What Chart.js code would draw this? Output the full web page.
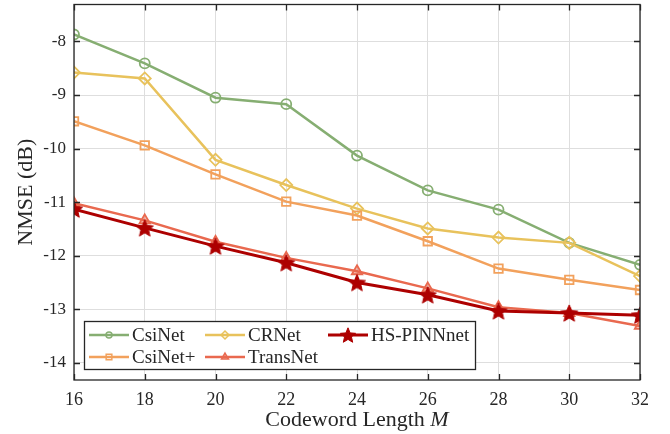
<!DOCTYPE html>
<html>
<head>
<meta charset="utf-8">
<script src="https://cdn.jsdelivr.net/npm/chart.js@4.4.0/dist/chart.umd.min.js"></script>
<style>
  html, body { margin: 0; padding: 0; background: #fff; }
</style>
</head>
<body>
<canvas id="nmseChart" width="670" height="434"></canvas>
<script>
// codeword lengths and NMSE (dB)
var codeword = [16, 18, 20, 22, 24, 26, 28, 30, 32];
var csiNet     = [-7.87, -8.41, -9.05, -9.17, -10.13, -10.78, -11.14, -11.76, -12.17];
var crNet      = [-8.58, -8.69, -10.21, -10.68, -11.12, -11.49, -11.66, -11.76, -12.38];
var csiNetPlus = [-9.49, -9.94, -10.48, -10.99, -11.25, -11.73, -12.24, -12.45, -12.64];
var transNet   = [-11.02, -11.34, -11.74, -12.04, -12.29, -12.61, -12.96, -13.07, -13.31];
var hsPinn     = [-11.13, -11.48, -11.82, -12.13, -12.5, -12.73, -13.03, -13.07, -13.11];
var seriesNames = ["CsiNet", "CRNet", "HS-PINNnet", "CsiNet+", "TransNet"];
var yTicks = [-14, -13, -12, -11, -10, -9, -8];

var FONT = "'Liberation Serif', 'DejaVu Serif', serif";

function pts(ys) {
  return codeword.map(function (x, i) { return { x: x, y: ys[i] }; });
}

// filled five point star for HS-PINNnet markers
function makeStar(r, color) {
  var c = document.createElement("canvas");
  c.width = c.height = r * 2 + 2;
  var g = c.getContext("2d");
  g.beginPath();
  for (var i = 0; i < 10; i++) {
    var rad = i % 2 === 0 ? r : r * 0.45;
    var a = -Math.PI / 2 + i * Math.PI / 5;
    var px = r + 1 + rad * Math.cos(a), py = r + 1 + rad * Math.sin(a) + r * 0.1;
    if (i === 0) g.moveTo(px, py); else g.lineTo(px, py);
  }
  g.closePath();
  g.fillStyle = color;
  g.fill();
  g.strokeStyle = color;
  g.lineWidth = 1;
  g.stroke();
  return c;
}

var cGreen = "#86ae72", cYellow = "#e8c25c", cOrange = "#f2a15c", cRed = "#e9694f", cDark = "#ad0000";
var starImg = makeStar(9, cDark);
var starSmall = makeStar(8, cDark);

var data = {
  datasets: [
    { label: seriesNames[0], data: pts(csiNet), borderColor: cGreen, backgroundColor: "transparent",
      pointStyle: "circle", pointRadius: 5, order: 5 },
    { label: seriesNames[1], data: pts(crNet), borderColor: cYellow, backgroundColor: "transparent",
      pointStyle: "rectRot", pointRadius: 6, order: 4 },
    { label: seriesNames[3], data: pts(csiNetPlus), borderColor: cOrange, backgroundColor: "transparent",
      pointStyle: "rect", pointRadius: 6, order: 3 },
    { label: seriesNames[4], data: pts(transNet), borderColor: cRed, backgroundColor: "rgba(233,105,79,0.45)",
      pointStyle: "triangle", pointRadius: 6, order: 2 },
    { label: seriesNames[2], data: pts(hsPinn), borderColor: cDark, backgroundColor: cDark,
      pointStyle: starImg, pointRadius: 9, borderWidth: 3, order: 1 }
  ]
};
data.datasets.forEach(function (d) {
  d.borderWidth = d.borderWidth || 2.5;
  d.pointBorderWidth = 1.8;
  d.pointHoverRadius = d.pointRadius;
  d.tension = 0;
});

// MATLAB-like box with inward ticks, mixed-font x title and legend inside plot
var boxPlugin = {
  id: "boxPlugin",
  afterDraw: function (chart) {
    var ctx = chart.ctx, a = chart.chartArea;
    var xs = chart.scales.x, ys = chart.scales.y;
    ctx.save();
    ctx.strokeStyle = "#262626";
    ctx.lineWidth = 1.3;
    ctx.strokeRect(a.left, a.top, a.right - a.left, a.bottom - a.top);
    var tl = 6;
    ctx.beginPath();
    xs.ticks.forEach(function (t) {
      var px = Math.round(xs.getPixelForValue(t.value)) + 0.5;
      ctx.moveTo(px, a.bottom); ctx.lineTo(px, a.bottom - tl);
      ctx.moveTo(px, a.top); ctx.lineTo(px, a.top + tl);
    });
    ys.ticks.forEach(function (t) {
      var py = Math.round(ys.getPixelForValue(t.value)) + 0.5;
      ctx.moveTo(a.left, py); ctx.lineTo(a.left + tl, py);
      ctx.moveTo(a.right, py); ctx.lineTo(a.right - tl, py);
    });
    ctx.stroke();

    // x title
    ctx.fillStyle = "#262626";
    ctx.textBaseline = "middle";
    var t1 = "Codeword Length ", t2 = "M";
    ctx.font = "22px " + FONT;
    var w1 = ctx.measureText(t1).width;
    ctx.font = "italic 22px " + FONT;
    var w2 = ctx.measureText(t2).width;
    var cx = (a.left + a.right) / 2, sx = cx - (w1 + w2) / 2, ty = 420;
    ctx.textAlign = "left";
    ctx.font = "22px " + FONT;
    ctx.fillText(t1, sx, ty);
    ctx.font = "italic 22px " + FONT;
    ctx.fillText(t2, sx + w1, ty);

    // legend
    var lx = a.left + 10, ly = a.bottom - 59, lw = 391, lh = 48;
    ctx.fillStyle = "#fff";
    ctx.fillRect(lx, ly, lw, lh);
    ctx.strokeStyle = "#262626";
    ctx.lineWidth = 1.3;
    ctx.strokeRect(lx + 0.5, ly + 0.5, lw, lh);
    var cols = [lx + 5, lx + 121, lx + 244];
    var rows = [ly + 14, ly + 36];
    var order = [0, 1, 4, 2, 3];
    ctx.font = "19px " + FONT;
    order.forEach(function (di, k) {
      var d = chart.data.datasets[di];
      var x0 = cols[k % 3], y0 = rows[Math.floor(k / 3)];
      ctx.strokeStyle = d.borderColor;
      ctx.lineWidth = d.borderWidth;
      ctx.beginPath();
      ctx.moveTo(x0, y0); ctx.lineTo(x0 + 40, y0);
      ctx.stroke();
      var mx = x0 + 20;
      if (d.pointStyle === starImg) {
        ctx.drawImage(starSmall, mx - starSmall.width / 2, y0 - starSmall.height / 2);
      } else {
        ctx.fillStyle = d.backgroundColor;
        ctx.strokeStyle = d.borderColor;
        ctx.lineWidth = 1.5;
        Chart.helpers.drawPoint(ctx, {
          pointStyle: d.pointStyle, radius: d.pointRadius - 2, rotation: 0, borderWidth: 1.5
        }, mx, y0);
      }
      ctx.fillStyle = "#262626";
      ctx.textAlign = "left";
      ctx.textBaseline = "middle";
      ctx.fillText(d.label, x0 + 43, y0 + 1);
    });
    ctx.restore();
  }
};

new Chart(document.getElementById("nmseChart"), {
  type: "line",
  data: data,
  options: {
    responsive: false,
    animation: false,
    events: [],
    layout: { autoPadding: false, padding: { top: 4.5, right: 30, left: 0, bottom: 0 } },
    plugins: { legend: { display: false }, tooltip: { enabled: false } },
    scales: {
      x: {
        type: "linear",
        min: 16, max: 32,
        ticks: { stepSize: 2, color: "#262626", font: { family: FONT, size: 18 }, padding: 9, maxRotation: 0 },
        grid: { color: "#dedede", lineWidth: 1, drawTicks: false },
        border: { display: false },
        afterFit: function (s) { s.height = 54; }
      },
      y: {
        type: "linear",
        min: -14.32, max: -7.31,
        afterBuildTicks: function (s) {
          s.ticks = yTicks.map(function (v) { return { value: v }; });
        },
        ticks: { color: "#262626", font: { family: FONT, size: 17 }, padding: 8 },
        grid: { color: "#dedede", lineWidth: 1, drawTicks: false },
        border: { display: false },
        title: { display: true, text: "NMSE (dB)", color: "#262626",
                 font: { family: FONT, size: 22 }, padding: { top: 13, bottom: 0 } },
        afterFit: function (s) { s.width = 74; s.paddingTop = 0; s.paddingBottom = 0; }
      }
    }
  },
  plugins: [boxPlugin]
});
</script>
</body>
</html>
